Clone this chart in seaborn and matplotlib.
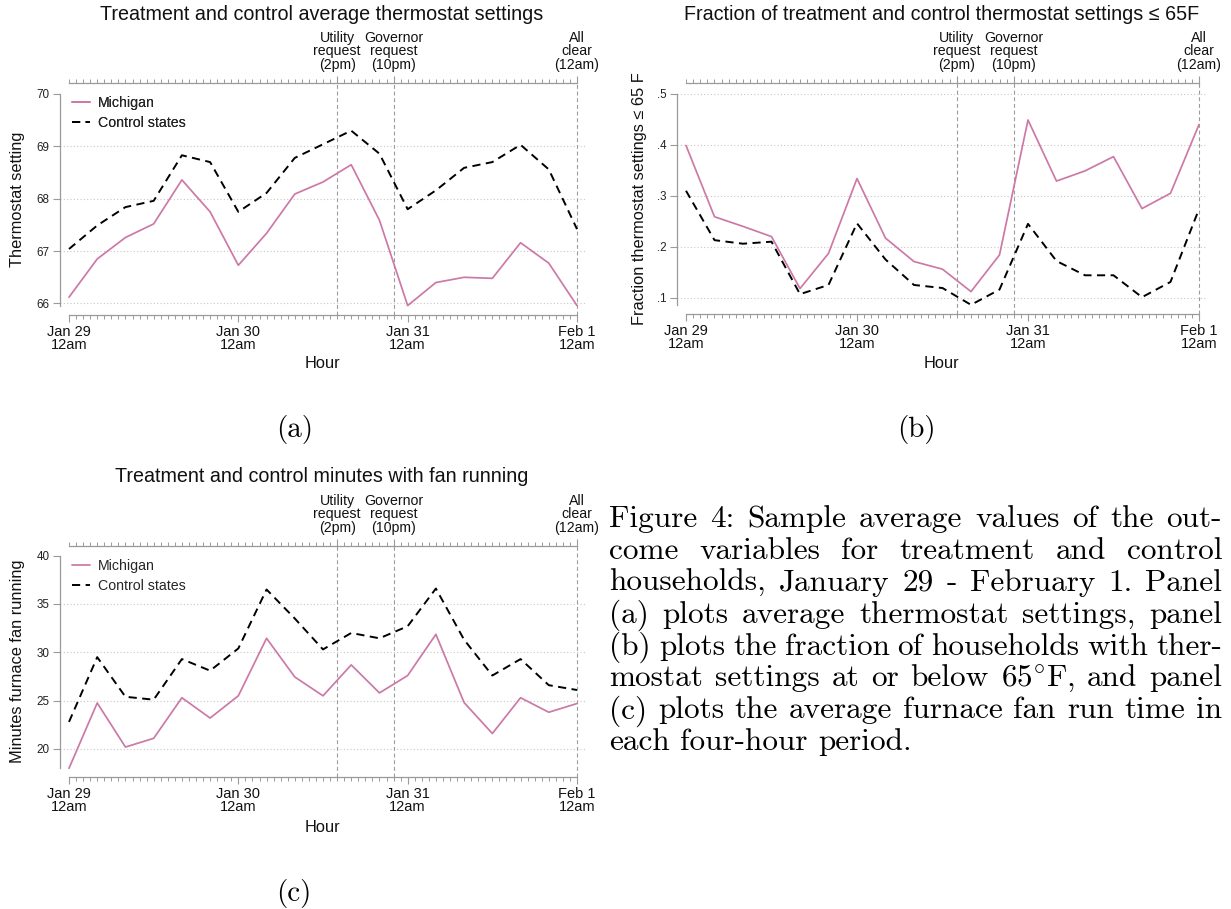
import matplotlib
matplotlib.use("Agg")
import matplotlib.pyplot as plt
import seaborn as sns
from matplotlib.ticker import FixedLocator

# ---- data: four-hour periods starting Jan 29, 12am ----
hours = [0, 4, 8, 12, 16, 20, 24, 28, 32, 36, 40, 44, 48, 52, 56, 60, 64, 68, 72]

thermo_mi = [66.12, 66.85, 67.26, 67.52, 68.36, 67.75, 66.73, 67.34, 68.09, 68.32,
             68.65, 67.59, 65.96, 66.40, 66.50, 66.48, 67.16, 66.77, 65.96]
thermo_ctrl = [67.04, 67.49, 67.84, 67.96, 68.83, 68.70, 67.75, 68.11, 68.78, 69.04,
               69.30, 68.86, 67.80, 68.16, 68.59, 68.70, 69.03, 68.56, 67.42]

frac_mi = [0.399, 0.259, 0.240, 0.220, 0.118, 0.187, 0.334, 0.217, 0.171, 0.156,
           0.112, 0.184, 0.449, 0.329, 0.349, 0.377, 0.275, 0.305, 0.440]
frac_ctrl = [0.310, 0.213, 0.206, 0.210, 0.107, 0.125, 0.246, 0.175, 0.125, 0.119,
             0.086, 0.116, 0.245, 0.172, 0.144, 0.144, 0.101, 0.131, 0.274]

fan_mi = [18.0, 24.76, 20.2, 21.1, 25.3, 23.2, 25.5, 31.45, 27.45, 25.5,
          28.7, 25.8, 27.6, 31.86, 24.8, 21.6, 25.3, 23.8, 24.7]
fan_ctrl = [22.8, 29.5, 25.4, 25.1, 29.3, 28.1, 30.4, 36.5, 33.5, 30.3,
            32.0, 31.45, 32.7, 36.6, 31.3, 27.6, 29.3, 26.6, 26.1]

day_ticks = [0, 24, 48, 72]
day_labels = ["Jan 29\n12am", "Jan 30\n12am", "Jan 31\n12am", "Feb 1\n12am"]
event_hours = [38, 46, 72]
event_labels = ["Utility\nrequest\n(2pm)", "Governor\nrequest\n(10pm)", "All\nclear\n(12am)"]

series_names = ["Michigan", "Control states"]

caption_lines = [
    "Figure 4: Sample average values of the out-",
    "come variables for treatment and control",
    "households, January 29 - February 1. Panel",
    "(a) plots average thermostat settings, panel",
    "(b) plots the fraction of households with ther-",
    "mostat settings at or below 65$^{\\circ}$F, and panel",
    "(c) plots the average furnace fan run time in",
    "each four-hour period.",
]

# ---- style ----
sns.set_theme(style="white")
plt.rcParams["font.family"] = ["Liberation Sans", "DejaVu Sans"]
plt.rcParams["mathtext.fontset"] = "cm"

PINK = "#CC79A7"
AX_GRAY = "#9a9a9a"
W, H = 1231, 909
fig = plt.figure(figsize=(W / 100, H / 100), dpi=100)


def fx(px):
    return px / W


def fy(py):
    return 1 - py / H


def panel(left, right, top, bottom, x0px, x72px, ylim, yticks, ylabels, grid,
          mi, ctrl, title, ylabel, title_x, ylabel_x, title_y, xlabel_y):
    ax = fig.add_axes([fx(left), fy(bottom), (right - left) / W, (bottom - top) / H])
    ppu = (x72px - x0px) / 72.0
    xlim = ((left - x0px) / ppu, 72 + (right - x72px) / ppu)

    for g in grid:
        ax.axhline(g, color="#c8c8c8", lw=0.8, ls=(0, (1, 2)), zorder=0)
    for e in event_hours:
        ax.axvline(e, color="#9c9c9c", lw=0.8, ls=(0, (3.5, 2.5)), zorder=1)

    sns.lineplot(x=hours, y=mi, ax=ax, color=PINK, lw=1.25, label=series_names[0], zorder=3)
    sns.lineplot(x=hours, y=ctrl, ax=ax, color="black", lw=1.4,
                 linestyle=(0, (4.2, 2.8)), label=series_names[1], zorder=3)

    ax.set_xlim(*xlim)
    ax.set_ylim(*ylim)
    ax.set_xlabel("")
    ax.set_ylabel("")

    for s in ["top", "right"]:
        ax.spines[s].set_visible(False)
    for s in ["left", "bottom"]:
        ax.spines[s].set_color(AX_GRAY)
        ax.spines[s].set_linewidth(0.9)
    ax.spines["bottom"].set_bounds(0, 72)
    ax.spines["left"].set_bounds(min(min(mi), min(ctrl), yticks[0]), yticks[-1])

    ax.set_yticks(yticks)
    ax.set_yticklabels(ylabels)
    ax.xaxis.set_major_locator(FixedLocator(day_ticks))
    ax.set_xticklabels(day_labels, linespacing=0.95)
    ax.xaxis.set_minor_locator(FixedLocator([h for h in range(0, 73) if h % 24]))
    ax.tick_params(axis="y", which="major", direction="out", length=5, width=0.8,
                   color=AX_GRAY, labelsize=8.4, labelcolor="#222222", pad=2.5, left=True)
    ax.tick_params(axis="x", which="major", direction="out", length=5, width=0.8,
                   color=AX_GRAY, labelsize=10.5, labelcolor="#111111", pad=2, bottom=True)
    ax.tick_params(axis="x", which="minor", direction="out", length=2.7, width=0.7,
                   color=AX_GRAY, bottom=True)

    ax2 = ax.twiny()
    ax2.set_xlim(*xlim)
    for s in ax2.spines.values():
        s.set_visible(False)
    ax2.spines["top"].set_visible(True)
    ax2.spines["top"].set_color(AX_GRAY)
    ax2.spines["top"].set_linewidth(0.9)
    ax2.spines["top"].set_bounds(0, 72)
    ax2.xaxis.set_major_locator(FixedLocator(event_hours))
    ax2.set_xticklabels(event_labels, linespacing=0.95)
    ax2.xaxis.set_minor_locator(FixedLocator([h for h in range(0, 73) if h not in event_hours]))
    ax2.tick_params(axis="x", which="major", direction="out", length=5, width=0.8,
                    color=AX_GRAY, labelsize=10.2, labelcolor="#111111", pad=3)
    ax2.tick_params(axis="x", which="minor", direction="out", length=2.7, width=0.7,
                    color=AX_GRAY)
    ax2.grid(False)
    ax.grid(False)

    ax.legend(loc="upper left",
              bbox_to_anchor=((72 - left) / (right - left), 1 - (96 - 83) / (bottom - top)),
              frameon=False, fontsize=10.2, handlelength=1.25, handletextpad=0.6,
              labelspacing=0.42, borderaxespad=0, borderpad=0)

    fig.text(fx(title_x), fy(title_y), title, ha="center", va="center", fontsize=14.2,
             color="#111111")
    fig.text(fx(ylabel_x), fy((top + bottom) / 2), ylabel, ha="center", va="center",
             rotation=90, fontsize=11.8, color="#111111")
    fig.text(fx((left + right) / 2 - 1), fy(xlabel_y), "Hour", ha="center", va="center",
             fontsize=11.8, color="#111111")
    return ax


panel(60, 586, 83, 315, 69, 577, (65.78, 70.21), [66, 67, 68, 69, 70],
      ["66", "67", "68", "69", "70"], [66, 67, 68, 69],
      thermo_mi, thermo_ctrl, "Treatment and control average thermostat settings",
      "Thermostat setting", 321.5, 18, 15, 363)

panel(677, 1207, 83, 314, 686, 1199, (0.068, 0.5216), [0.1, 0.2, 0.3, 0.4, 0.5],
      [".1", ".2", ".3", ".4", ".5"], [0.1, 0.2, 0.3, 0.4, 0.5],
      frac_mi, frac_ctrl, "Fraction of treatment and control thermostat settings \u2264 65F",
      "Fraction thermostat settings \u2264 65 F", 942, 640, 15, 363)

panel(60, 586, 546, 777, 69, 577, (17.1, 41.0), [20, 25, 30, 35, 40],
      ["20", "25", "30", "35", "40"], [20, 25, 30, 35],
      fan_mi, fan_ctrl, "Treatment and control minutes with fan running",
      "Minutes furnace fan running", 322, 18, 477, 827)

# ---- sub-figure labels and caption (serif, justified) ----
SERIF = "cmr10"
for lab, x, y in [("(a)", 295, 430), ("(b)", 916, 430), ("(c)", 294, 893)]:
    fig.text(fx(x), fy(y), lab, ha="center", va="center", fontsize=21, family=SERIF,
             color="black")

cap_left, cap_right = 609, 1222
cap_base0, cap_step = 527, 31.9
cap_size = 22.5
renderer = fig.canvas.get_renderer()
for i, line in enumerate(caption_lines):
    words = line.split(" ")
    yb = fy(cap_base0 + i * cap_step)
    items = [fig.text(0, yb, w, fontsize=cap_size, family=SERIF, va="baseline",
                      ha="left", color="black") for w in words]
    widths = [t.get_window_extent(renderer).width for t in items]
    if i < len(caption_lines) - 1 and len(words) > 1:
        gap = (cap_right - cap_left - sum(widths)) / (len(words) - 1)
    else:
        gap = 0.33 * cap_size * 100 / 72
    x = cap_left
    for t, wdt in zip(items, widths):
        t.set_x(fx(x))
        x += wdt + gap

fig.savefig("out.png", dpi=100)
